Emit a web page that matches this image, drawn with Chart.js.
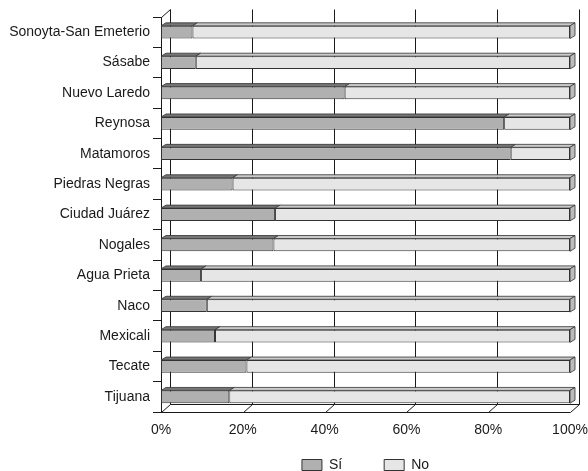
<!DOCTYPE html>
<html><head><meta charset="utf-8">
<script src="https://cdn.jsdelivr.net/npm/chart.js@4.4.1/dist/chart.umd.min.js"></script>
<style>html,body{margin:0;padding:0;background:#fff;}canvas{display:block}</style>
</head><body>
<canvas id="c" width="588" height="471"></canvas>
<script>
const categories = ["Sonoyta-San Emeterio","Sásabe","Nuevo Laredo","Reynosa","Matamoros","Piedras Negras","Ciudad Juárez","Nogales","Agua Prieta","Naco","Mexicali","Tecate","Tijuana"];
const siValues = [7.7, 8.5, 44.9, 83.9, 85.5, 17.5, 27.9, 27.5, 9.8, 11.2, 13.2, 20.9, 16.7];
const noValues = [92.3, 91.5, 55.1, 16.1, 14.5, 82.5, 72.1, 72.5, 90.2, 88.8, 86.8, 79.1, 83.3];
const seriesNames = ["Sí", "No"];
const xTickValues = [0, 20, 40, 60, 80, 100];

const INK = '#1a1a1a';
const FONT = '"Liberation Sans", Arial, sans-serif';
const FRONT = ['#b0b0b0', '#e6e6e6'];
const TOP = ['#767676', '#cacaca'];
const SIDE = '#bcbcbc';
const DEPTH = {dx: 9, dy: -8};
const BAR_DEPTH = {dx: 5, dy: -3};

function poly(ctx, pts, fill) {
  ctx.beginPath();
  ctx.moveTo(pts[0][0], pts[0][1]);
  for (let i = 1; i < pts.length; i++) ctx.lineTo(pts[i][0], pts[i][1]);
  ctx.closePath();
  ctx.fillStyle = fill; ctx.fill();
  ctx.stroke();
}

const threeD = {
  id: 'threeD',
  beforeInit(chart) {
    const orig = chart.legend.fit;
    chart.legend.fit = function () { orig.call(this); this.height = 55; };
  },
  afterLayout(chart) {
    // let the x tick labels extend below the (thin) axis box
    chart.scales.x.bottom = chart.height;
  },
  beforeDatasetsDraw(chart) {
    const {ctx, chartArea: a, scales: {x}} = chart;
    ctx.save();
    ctx.strokeStyle = INK; ctx.lineWidth = 1;
    const line = (x1, y1, x2, y2) => {
      ctx.beginPath();
      ctx.moveTo(Math.round(x1) + 0.5, Math.round(y1) + 0.5);
      ctx.lineTo(Math.round(x2) + 0.5, Math.round(y2) + 0.5);
      ctx.stroke();
    };
    const bt = a.top + DEPTH.dy, bb = a.bottom + DEPTH.dy;
    xTickValues.forEach(v => {
      const px = x.getPixelForValue(v);
      line(px + DEPTH.dx, bt, px + DEPTH.dx, bb);
      line(px, a.bottom, px + DEPTH.dx, bb);
    });
    line(a.left, a.top, a.left + DEPTH.dx, bt);
    line(a.left, a.bottom, x.getPixelForValue(100), a.bottom);
    line(a.left + DEPTH.dx, bb, x.getPixelForValue(100) + DEPTH.dx, bb);
    ctx.restore();
  },
  afterDatasetsDraw(chart) {
    const {ctx} = chart;
    ctx.save();
    ctx.strokeStyle = '#333'; ctx.lineWidth = 0.8;
    const n = chart.data.datasets.length;
    chart.data.datasets.forEach((ds, di) => {
      const meta = chart.getDatasetMeta(di);
      meta.data.forEach(el => {
        const p = el.getProps(['x', 'base', 'y', 'height'], true);
        const x0 = Math.min(p.base, p.x), x1 = Math.max(p.base, p.x);
        const top = p.y - p.height / 2, bot = p.y + p.height / 2;
        const {dx, dy} = BAR_DEPTH;
        poly(ctx, [[x0, top], [x1, top], [x1 + dx, top + dy], [x0 + dx, top + dy]], TOP[di]);
        if (di === n - 1) {
          poly(ctx, [[x1, top], [x1 + dx, top + dy], [x1 + dx, bot + dy], [x1, bot]], SIDE);
        }
      });
    });
    ctx.restore();
  }
};

new Chart(document.getElementById('c'), {
  type: 'bar',
  data: {
    labels: categories,
    datasets: [
      {label: seriesNames[0], data: siValues, backgroundColor: FRONT[0], borderColor: '#333', borderWidth: 1, borderSkipped: false, barPercentage: 0.42, categoryPercentage: 1},
      {label: seriesNames[1], data: noValues, backgroundColor: FRONT[1], borderColor: '#333', borderWidth: 1, borderSkipped: false, barPercentage: 0.42, categoryPercentage: 1}
    ]
  },
  options: {
    indexAxis: 'y',
    responsive: false,
    animation: false,
    layout: {padding: {top: 17, right: 18, left: 0, bottom: 0}},
    scales: {
      x: {
        stacked: true, min: 0, max: 100,
        afterBuildTicks: s => { s.ticks = xTickValues.map(v => ({value: v})); },
        ticks: {callback: v => v + '%', color: INK, padding: 0, maxRotation: 0,
                font: {family: FONT, size: 14}},
        grid: {display: false, drawTicks: true, tickLength: 10},
        border: {display: false},
        afterFit: s => { s.height = 4; }
      },
      y: {
        stacked: true,
        ticks: {color: INK, padding: 3, font: {family: FONT, size: 14}},
        grid: {offset: true, drawOnChartArea: false, drawTicks: true, tickLength: 8, color: INK},
        border: {display: true, color: INK},
        afterFit: s => { s.width = 161; }
      }
    },
    plugins: {
      tooltip: {enabled: false},
      legend: {
        position: 'bottom', fullSize: false,
        labels: {boxWidth: 20, boxHeight: 11, padding: 42, color: INK,
                 font: {family: FONT, size: 14}}
      }
    }
  },
  plugins: [threeD]
});
</script>
</body></html>
